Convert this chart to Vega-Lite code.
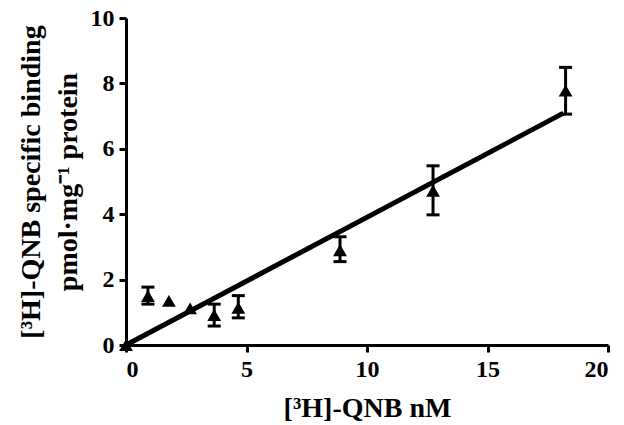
{
  "$schema": "https://vega.github.io/schema/vega-lite/v6.json",
  "width": 482,
  "height": 327,
  "autosize": {"type": "none"},
  "padding": {"left": 126, "top": 18, "right": 16, "bottom": 80},
  "background": "white",
  "config": {
    "view": {"stroke": null},
    "font": "Liberation Serif",
    "axis": {
      "grid": false,
      "domainColor": "black",
      "domainWidth": 3,
      "tickColor": "black",
      "tickWidth": 3,
      "tickSize": 7,
      "labelFont": "Liberation Serif",
      "labelFontSize": 24,
      "labelFontWeight": "bold",
      "labelColor": "black",
      "titleFont": "Liberation Serif",
      "titleFontSize": 28,
      "titleFontWeight": "bold",
      "titleColor": "black"
    }
  },
  "datasets": {
    "pts": [
      {"x": 0, "y": 0, "lo": 0, "hi": 0},
      {"x": 0.91, "y": 1.5, "lo": 1.25, "hi": 1.77},
      {"x": 1.78, "y": 1.35, "lo": 1.35, "hi": 1.35},
      {"x": 2.66, "y": 1.12, "lo": 1.12, "hi": 1.12},
      {"x": 3.66, "y": 0.92, "lo": 0.58, "hi": 1.25},
      {"x": 4.66, "y": 1.14, "lo": 0.83, "hi": 1.51},
      {"x": 8.88, "y": 2.9, "lo": 2.55, "hi": 3.31},
      {"x": 12.74, "y": 4.72, "lo": 3.98, "hi": 5.48},
      {"x": 18.24, "y": 7.78, "lo": 7.06, "hi": 8.49}
    ],
    "fit": [
      {"x": 0, "y": 0},
      {"x": 18.15, "y": 7.09}
    ]
  },
  "layer": [
    {
      "data": {"name": "fit"},
      "mark": {"type": "line", "color": "black", "strokeWidth": 5},
      "encoding": {
        "x": {
          "field": "x", "type": "quantitative",
          "scale": {"domain": [0, 20], "nice": false},
          "axis": {"values": [0, 5, 10, 15, 20], "title": "[³H]-QNB nM", "labelPadding": 5, "titlePadding": 13}
        },
        "y": {
          "field": "y", "type": "quantitative",
          "scale": {"domain": [0, 10], "nice": false},
          "axis": {"values": [0, 2, 4, 6, 8, 10], "title": ["[³H]-QNB specific binding", "pmol·mg⁻¹ protein"], "labelPadding": 5, "titlePadding": 8, "titleLineHeight": 37}
        }
      }
    },
    {
      "data": {"name": "pts"},
      "transform": [{"filter": "datum.hi > datum.lo"}],
      "mark": {"type": "rule", "color": "black", "strokeWidth": 3},
      "encoding": {
        "x": {"field": "x", "type": "quantitative"},
        "y": {"field": "lo", "type": "quantitative"},
        "y2": {"field": "hi"}
      }
    },
    {
      "data": {"name": "pts"},
      "transform": [{"filter": "datum.hi > datum.lo"}],
      "mark": {"type": "tick", "color": "black", "opacity": 1, "thickness": 3, "size": 13, "orient": "horizontal"},
      "encoding": {
        "x": {"field": "x", "type": "quantitative"},
        "y": {"field": "lo", "type": "quantitative"}
      }
    },
    {
      "data": {"name": "pts"},
      "transform": [{"filter": "datum.hi > datum.lo"}],
      "mark": {"type": "tick", "color": "black", "opacity": 1, "thickness": 3, "size": 13, "orient": "horizontal"},
      "encoding": {
        "x": {"field": "x", "type": "quantitative"},
        "y": {"field": "hi", "type": "quantitative"}
      }
    },
    {
      "data": {"name": "pts"},
      "mark": {"type": "point", "shape": "triangle-up", "filled": true, "color": "black", "opacity": 1, "size": 190},
      "encoding": {
        "x": {"field": "x", "type": "quantitative"},
        "y": {"field": "y", "type": "quantitative"}
      }
    }
  ]
}
